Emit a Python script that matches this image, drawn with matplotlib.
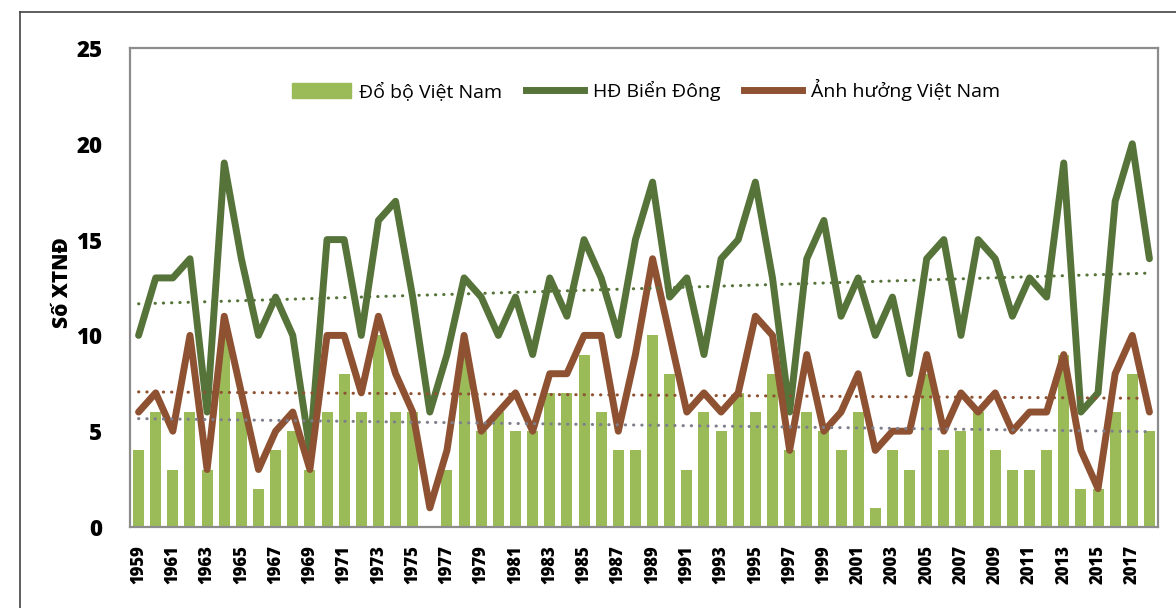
import numpy as np
import matplotlib.pyplot as plt
from matplotlib.lines import Line2D
from matplotlib.patches import Patch

plt.rcParams['font.family'] = ['Open Sans', 'DejaVu Sans']

# Data
years = list(range(1959, 2019))
do_bo_vn = [4, 6, 3, 6, 3, 10, 6, 2, 4, 5, 3, 6, 8, 6, 10, 6, 6, 0, 3, 9,
            5, 6, 5, 5, 7, 7, 9, 6, 4, 4, 10, 8, 3, 6, 5, 7, 6, 8, 4, 6,
            5, 4, 6, 1, 4, 3, 8, 4, 5, 6, 4, 3, 3, 4, 9, 2, 2, 6, 8, 5]
hd_bien_dong = [10, 13, 13, 14, 6, 19, 14, 10, 12, 10, 4, 15, 15, 10, 16, 17, 12, 6, 9, 13,
                12, 10, 12, 9, 13, 11, 15, 13, 10, 15, 18, 12, 13, 9, 14, 15, 18, 13, 6, 14,
                16, 11, 13, 10, 12, 8, 14, 15, 10, 15, 14, 11, 13, 12, 19, 6, 7, 17, 20, 14]
anh_huong_vn = [6, 7, 5, 10, 3, 11, 7, 3, 5, 6, 3, 10, 10, 7, 11, 8, 6, 1, 4, 10,
                5, 6, 7, 5, 8, 8, 10, 10, 5, 9, 14, 10, 6, 7, 6, 7, 11, 10, 4, 9,
                5, 6, 8, 4, 5, 5, 9, 5, 7, 6, 7, 5, 6, 6, 9, 4, 2, 8, 10, 6]
tick_years = [str(y) for y in years[::2]]

bar_color = '#9BBB59'
green = '#56733A'
brown = '#8E5232'
gray = '#7F7F8C'

fig = plt.figure(figsize=(11.76, 6.08), dpi=100)
ax = fig.add_axes([130 / 1176, 1 - 527 / 608, 1028 / 1176, 479 / 608])

x = np.arange(len(years))

# Bars and lines
ax.bar(x, do_bo_vn, width=0.64, color=bar_color, zorder=2)
ax.plot(x, hd_bien_dong, color=green, lw=5, zorder=3, solid_joinstyle='round',
        solid_capstyle='round')
ax.plot(x, anh_huong_vn, color=brown, lw=5, zorder=4, solid_joinstyle='round',
        solid_capstyle='round')

# Linear trend lines (dotted)
for series, col in [(hd_bien_dong, green), (anh_huong_vn, brown), (do_bo_vn, gray)]:
    k, b = np.polyfit(x, series, 1)
    ax.plot(x, k * x + b, color=col, lw=2.2, linestyle=(0, (0.1, 2.6)),
            dash_capstyle='round', zorder=5)

ax.set_xlim(-0.5, len(years) - 0.5)
ax.set_ylim(0, 25)
ax.set_yticks([0, 5, 10, 15, 20, 25])
ax.set_xticks(x[::2])
ax.set_xticklabels(tick_years, rotation=90, fontsize=12, fontweight='heavy')
for lab in ax.get_yticklabels():
    lab.set_fontsize(16)
    lab.set_fontweight('heavy')
ax.tick_params(axis='both', length=0)
ax.tick_params(axis='y', pad=20)
ax.tick_params(axis='x', pad=13)

for sp in ax.spines.values():
    sp.set_color('#8C8C8C')
    sp.set_linewidth(1.6)
    sp.set_zorder(6)

fig.text(62 / 1176, 1 - 283 / 608, 'Số XTNĐ', rotation=90, fontsize=15,
         fontweight='heavy', ha='center', va='center')

# Legend
handles = [Patch(color=bar_color),
           Line2D([], [], color=green, lw=5),
           Line2D([], [], color=brown, lw=5)]
labels = ['Đổ bộ Việt Nam', 'HĐ Biển Đông', 'Ảnh hưởng Việt Nam']
ax.legend(handles, labels, loc='center', bbox_to_anchor=(0.502, 0.912), ncol=3,
          frameon=False, fontsize=14, handlelength=3.0, handleheight=0.8,
          handletextpad=0.45, columnspacing=1.2)

# Outer frame (top and left edges)
fig.add_artist(Line2D([20 / 1176, 1], [1 - 12 / 608, 1 - 12 / 608],
                      transform=fig.transFigure, color='#444444', lw=1.2))
fig.add_artist(Line2D([20 / 1176, 20 / 1176], [0, 1 - 12 / 608],
                      transform=fig.transFigure, color='#444444', lw=1.2))

fig.savefig('out.png', dpi=100)
